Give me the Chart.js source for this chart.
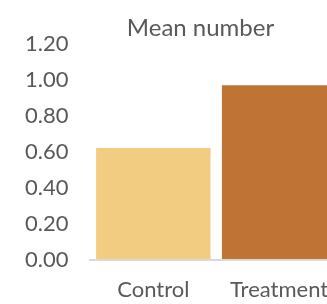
<!DOCTYPE html>
<html>
<head>
<meta charset="utf-8">
<script src="https://cdn.jsdelivr.net/npm/chart.js@4"></script>
<style>
html,body{margin:0;padding:0;overflow:hidden;background:#fff;width:327px;height:304px;}
canvas{display:block;}
</style>
</head>
<body>
<canvas id="c" width="401" height="304" style="width:401px;height:304px"></canvas>
<script>
const categories = ["Control", "Treatment"];
const meanValues = [0.62, 0.97];
const barColors = ["#F2CC80", "#BF7335"];
const titleText = "Mean number";
const yMin = 0, yMax = 1.2, yStep = 0.2;

const clear = 'rgba(0,0,0,0)';

new Chart(document.getElementById('c'), {
  type: 'bar',
  data: {
    labels: categories,
    datasets: [{
      data: meanValues,
      backgroundColor: barColors,
      borderWidth: 0,
      categoryPercentage: 1,
      barPercentage: 0.91
    }]
  },
  options: {
    responsive: false,
    animation: false,
    layout: { padding: { left: 25, right: 25, top: 10, bottom: 1 } },
    plugins: {
      legend: { display: false },
      tooltip: { enabled: false },
      title: {
        display: true,
        text: titleText,
        color: '#595959',
        font: { family: 'Lato', size: 24, weight: 'normal' },
        padding: { top: 4, bottom: 1 }
      }
    },
    scales: {
      x: {
        grid: { display: true, drawOnChartArea: false, drawTicks: true, tickLength: 17, color: clear },
        border: { display: true, color: '#D9D9D9', width: 2 },
        ticks: { color: '#595959', font: { family: 'Lato', size: 22 }, padding: 0, maxRotation: 0 }
      },
      y: {
        min: yMin, max: yMax,
        grid: { display: true, drawOnChartArea: false, drawTicks: true, tickLength: 22, color: clear },
        border: { display: false },
        ticks: {
          stepSize: yStep,
          color: '#595959',
          font: { family: 'Lato', size: 22 },
          padding: 0,
          callback: v => Number(v).toFixed(2)
        }
      },
      spacer: {
        type: 'linear',
        position: 'right',
        display: true,
        afterFit: s => { s.width = 34; },
        grid: { display: false },
        border: { display: false },
        ticks: { display: false }
      }
    }
  }
});
</script>
</body>
</html>
